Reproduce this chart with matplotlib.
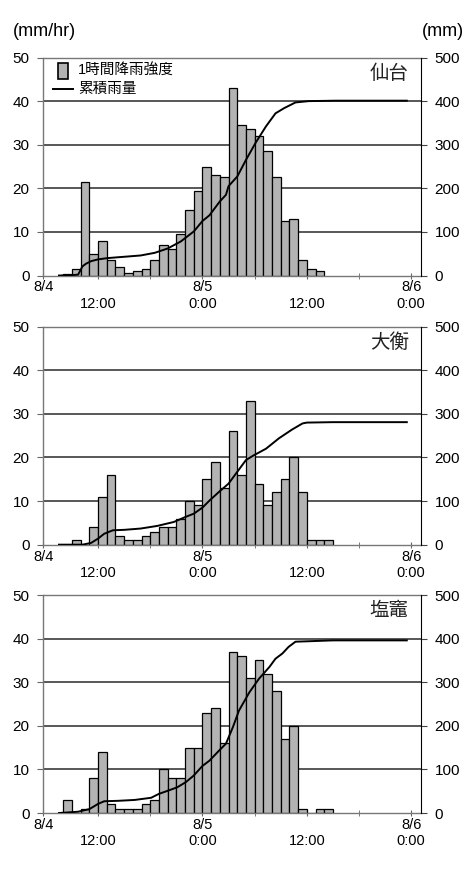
import matplotlib
matplotlib.use("Agg")
import matplotlib.pyplot as plt
from matplotlib.patches import Rectangle
from matplotlib.lines import Line2D

plt.rcParams['font.family'] = ['Liberation Sans', 'Noto Sans CJK JP']

# hourly rainfall (bar = hour starting at h, hours counted from 8/4 0:00)
hours1 = list(range(8, 38))
rain1 = [0.3, 1.5, 21.5, 5, 8, 3.5, 2, 0.5, 1, 1.5, 3.5, 7, 6, 9.5, 15, 19.5,
         25, 23, 22.5, 43, 34.5, 33.5, 32, 28.5, 22.5, 12.5, 13, 3.5, 1.5, 1]
hours2 = list(range(9, 39))
rain2 = [1, 0, 4, 11, 16, 2, 1, 1, 2, 3, 4, 4, 6, 10, 9, 15,
         19, 13, 26, 16, 33, 14, 9, 12, 15, 20, 12, 1, 1, 1]
hours3 = list(range(8, 39))
rain3 = [3, 0, 1, 8, 14, 2, 1, 1, 1, 2, 3, 10, 8, 8, 15, 15,
         23, 24, 16, 37, 36, 31, 35, 32, 28, 17, 20, 1, 0, 1, 1]

# cumulative rainfall (mm)
t1 = [7.5, 9.0, 9.7, 10.2, 10.6, 11.2, 12.0, 13.1, 15.0, 16.9, 18.5, 20.0, 21.5,
      23.0, 24.0, 24.8, 26.0, 26.7, 27.0, 28.0, 29.0, 30.1, 31.3, 32.4, 33.4,
      34.7, 36.2, 39.3, 47.5]
cum1 = [0, 1, 2, 21, 27, 33, 37, 40, 43, 46, 52, 62, 78, 101, 125, 138, 170, 185,
        205, 227, 265, 304, 342, 372, 384, 397, 400, 401, 401]
t2 = [7.5, 10.2, 11.2, 12.0, 12.7, 13.7, 15.0, 16.9, 18.8, 20.7, 22.1, 23.0, 24.0,
      24.8, 25.9, 27.0, 28.0, 29.0, 29.9, 31.3, 32.8, 34.3, 35.5, 36.0, 39.0, 47.5]
cum2 = [0, 0, 4, 14, 25, 33, 34, 37, 43, 52, 64, 71, 85, 101, 121, 140, 167, 194,
        205, 220, 244, 264, 278, 280, 281, 281]
t3 = [7.5, 9.7, 11.0, 12.0, 12.7, 14.3, 16.2, 18.1, 19.0, 20.0, 21.1, 22.1, 23.0,
      24.0, 24.8, 25.9, 26.7, 27.5, 28.2, 29.4, 30.5, 31.7, 32.4, 33.2, 33.9, 34.7,
      36.2, 39.0, 47.5]
cum3 = [0, 3, 9, 21, 27, 28, 30, 35, 44, 51, 59, 71, 86, 108, 120, 143, 159, 197,
        235, 277, 308, 335, 354, 366, 381, 393, 394, 396, 396]

stations = ['仙台', '大衡', '塩竈']
xticks = [5.7, 12, 24, 36, 48]
xlabels = ['8/4', '\n12:00', '8/5\n0:00', '\n12:00', '8/6\n0:00']

panels = [(hours1, rain1, t1, cum1), (hours2, rain2, t2, cum2), (hours3, rain3, t3, cum3)]
tops = [0.9341, 0.6258, 0.3184]
h = 0.2497

fig = plt.figure(figsize=(4.74, 8.73), dpi=100)
bar_color = '#b3b3b3'

for i, (hrs, rain, t, cum) in enumerate(panels):
    ax = fig.add_axes([0.0914, tops[i] - h, 0.7962, h])
    ax.bar(hrs, rain, width=1, align='edge', color=bar_color,
           edgecolor='black', linewidth=0.9, zorder=2)
    ax.set_xlim(5.7, 49.1)
    ax.set_ylim(0, 50)
    ax.set_yticks(range(0, 51, 10))
    for y in range(10, 50, 10):
        ax.axhline(y, color='#2a2a2a', lw=1.1, zorder=1)
    ax.set_xticks(xticks)
    ax.set_xticklabels(xlabels)
    ax.set_xticks([18, 30, 42], minor=True)
    ax.tick_params(axis='x', which='both', direction='inout', length=5,
                   color='#666666', labelsize=10.5, pad=1)
    ax.tick_params(axis='y', direction='out', length=4, color='#666666',
                   labelsize=11, pad=6)
    for s in ['left', 'bottom', 'top']:
        ax.spines[s].set_color('#777777')
        ax.spines[s].set_linewidth(1.0)
    ax.spines['right'].set_visible(False)

    ax2 = ax.twinx()
    ax2.plot(t, cum, color='black', lw=1.4, zorder=3)
    ax2.set_ylim(0, 500)
    ax2.set_yticks(range(0, 501, 100))
    ax2.tick_params(axis='y', direction='out', length=4, color='#444444',
                    labelsize=11, pad=6)
    ax2.spines['right'].set_color('black')
    for s in ['left', 'bottom', 'top']:
        ax2.spines[s].set_visible(False)

    ax.text(0.968, 0.925, stations[i], transform=ax.transAxes, ha='right',
            va='center', fontsize=14, color='#222222')

    if i == 0:
        # legend drawn by hand to get the narrow bar swatch
        ax.add_patch(Rectangle((0.039, 0.902), 0.026, 0.073, transform=ax.transAxes,
                               facecolor=bar_color, edgecolor='black', lw=1.2,
                               zorder=4, clip_on=False))
        ax.add_line(Line2D([0.026, 0.079], [0.856, 0.856], transform=ax.transAxes,
                           color='black', lw=1.4, zorder=4))
        ax.text(0.092, 0.941, '1時間降雨強度', transform=ax.transAxes,
                ha='left', va='center', fontsize=10.5)
        ax.text(0.092, 0.856, '累積雨量', transform=ax.transAxes,
                ha='left', va='center', fontsize=10.5)

fig.text(0.028, 0.964, '(mm/hr)', fontsize=13, ha='left', va='center')
fig.text(0.978, 0.964, '(mm)', fontsize=13, ha='right', va='center')

fig.savefig('out.png', dpi=100)
